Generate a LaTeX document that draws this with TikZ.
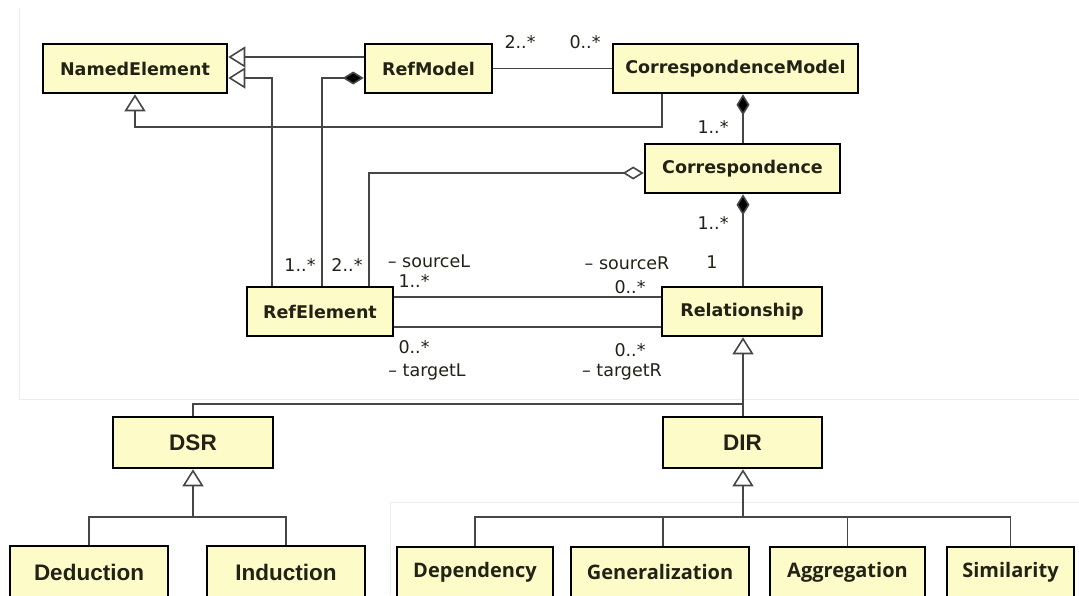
\documentclass[tikz,border=0pt]{standalone}
\usepackage{fontspec}
\usetikzlibrary{arrows.meta}
\newfontfamily\umlfont{DejaVu Sans}
\newfontfamily\arialfont{Liberation Sans}
\newfontfamily\kindfont{Open Sans}
\definecolor{boxfill}{RGB}{253,251,200}
\definecolor{ink}{RGB}{34,34,22}
\definecolor{wire}{RGB}{70,70,70}
\tikzset{
  cls/.style={draw=black, line width=2.6pt, fill=boxfill, inner sep=0pt,
    minimum height=49pt, text=ink,
    font=\umlfont\bfseries\fontsize{17.5}{17.5}\selectfont},
  bigcls/.style={cls, minimum height=51pt,
    font=\arialfont\bfseries\fontsize{22.5}{22.5}\selectfont},
  leafcls/.style={cls, minimum height=52pt,
    font=\arialfont\bfseries\fontsize{22.5}{22.5}\selectfont},
  kindcls/.style={cls, minimum height=50pt,
    font=\kindfont\bfseries\fontsize{20}{20}\selectfont},
  mult/.style={inner sep=0pt, text=ink, font=\umlfont\fontsize{17.5}{17.5}\selectfont},
  wireline/.style={draw=wire, line width=1.6pt},
  gen/.style={wireline, -{Triangle[open, length=17pt, width=21pt, fill=white]}},
  comp/.style={wireline, -{Diamond[length=21pt, width=13pt, fill=black]}},
  aggr/.style={wireline, -{Diamond[open, length=21pt, width=13pt, fill=white]}},
  haze/.style={draw=black!7, line width=1pt}
}
\begin{document}
\begin{tikzpicture}[x=1pt, y=-1pt]
\useasboundingbox (0,0) rectangle (1079,595);
\fill[white] (0,0) rectangle (1079,595);

% faint panel edges of the page behind the diagram
\draw[haze] (19,8) -- (19,399) -- (1079,399);
\draw[haze] (1079,502) -- (390,502) -- (390,595);

% routing rows and columns
\coordinate (rowA) at (0,57);
\coordinate (rowB) at (0,78);
\coordinate (rowC) at (0,127);
\coordinate (rowD) at (0,173);
\coordinate (rowE) at (0,297);
\coordinate (rowF) at (0,327);
\coordinate (colA) at (272,0);
\coordinate (colB) at (322,0);
\coordinate (colC) at (369,0);
\coordinate (colD) at (662,0);
\coordinate (colE) at (743,0);
\coordinate (colG) at (663,0);
\coordinate (join) at (743,404);
\coordinate (dsrBar) at (193,517);
\coordinate (dirBar) at (743,517);

% classes
\node[cls, minimum width=184pt] (NamedElement) at (135,68.5) {NamedElement};
\node[cls, minimum width=127pt] (RefModel) at (428.5,68.5) {RefModel};
\node[cls, minimum width=245pt] (CorrespondenceModel) at (735.5,68.5) {CorrespondenceModel};
\node[cls, minimum width=195pt] (Correspondence) at (742.5,168.5) {Correspondence};
\node[cls, minimum width=146pt] (RefElement) at (320,311.5) {RefElement};
\node[cls, minimum width=160pt] (Relationship) at (742,311.5) {Relationship};
\node[bigcls, minimum width=160pt] (DSR) at (193,442.5) {DSR};
\node[bigcls, minimum width=159pt] (DIR) at (742.5,442.5) {DIR};
\node[leafcls, minimum width=158pt] (Deduction) at (89,572) {Deduction};
\node[leafcls, minimum width=158pt] (Induction) at (286,572) {Induction};
\node[kindcls, minimum width=156pt] (Dependency) at (475,572) {Dependency};
\node[kindcls, minimum width=178pt] (Generalization) at (660,572) {Generalization};
\node[kindcls, minimum width=155pt] (Aggregation) at (847.5,572) {Aggregation};
\node[kindcls, minimum width=127pt] (Similarity) at (1010.5,572) {Similarity};

% inheritance towards NamedElement
\draw[gen] (RefModel.west |- rowA) -- (NamedElement.east |- rowA);
\draw[gen] (RefElement.north -| colA) |- (NamedElement.east |- rowB);
\draw[gen] (CorrespondenceModel.south -| colD) |- (NamedElement.south |- rowC) -- (NamedElement.south);

% RefModel owns its elements
\draw[comp] (RefElement.north -| colB) |- (RefModel.west |- rowB);

% correspondence model structure
\draw[wireline] (RefModel.east) -- (CorrespondenceModel.west);
\draw[comp] (Correspondence.north -| colE) -- (CorrespondenceModel.south -| colE);
\draw[aggr] (RefElement.north -| colC) |- (Correspondence.west |- rowD);
\draw[comp] (Relationship.north -| colE) -- (Correspondence.south -| colE);

% source / target associations
\draw[wireline] (RefElement.east |- rowE) -- (Relationship.west |- rowE);
\draw[wireline] (RefElement.east |- rowF) -- (Relationship.west |- rowF);

% relationship kinds
\draw[gen] (DIR.north -| colE) -- (Relationship.south -| colE);
\draw[wireline] (DSR.north) |- (join);
\draw[gen] (dsrBar) -- (DSR.south);
\draw[wireline] (Deduction.north) |- (Induction.north |- dsrBar) -- (Induction.north);
\draw[gen] (dirBar) -- (DIR.south -| colE);
\draw[wireline] (Dependency.north) |- (Similarity.north |- dirBar) -- (Similarity.north);
\draw[wireline] (Generalization.north -| colG) -- (dirBar -| colG);
\draw[wireline] (Aggregation.north) -- (Aggregation.north |- dirBar);

% multiplicities and role names
\node[mult] (mA) at (520,42) {2..*};
\node[mult] (mB) at (585,42) {0..*};
\node[mult] (mC) at (713,127) {1..*};
\node[mult] (mD) at (713,223) {1..*};
\node[mult] (mE) at (712,262) {1};
\node[mult] (mF) at (300,265) {1..*};
\node[mult] (mG) at (347,265) {2..*};
\node[mult] (mH) at (429,261) {\textendash\ sourceL};
\node[mult] (mI) at (414,281) {1..*};
\node[mult] (mJ) at (627,263) {\textendash\ sourceR};
\node[mult] (mK) at (630,287) {0..*};
\node[mult] (mL) at (414,347) {0..*};
\node[mult] (mM) at (427,372) {\textendash\ targetL};
\node[mult] (mN) at (630,350) {0..*};
\node[mult] (mO) at (622,372) {\textendash\ targetR};
\end{tikzpicture}
\end{document}
